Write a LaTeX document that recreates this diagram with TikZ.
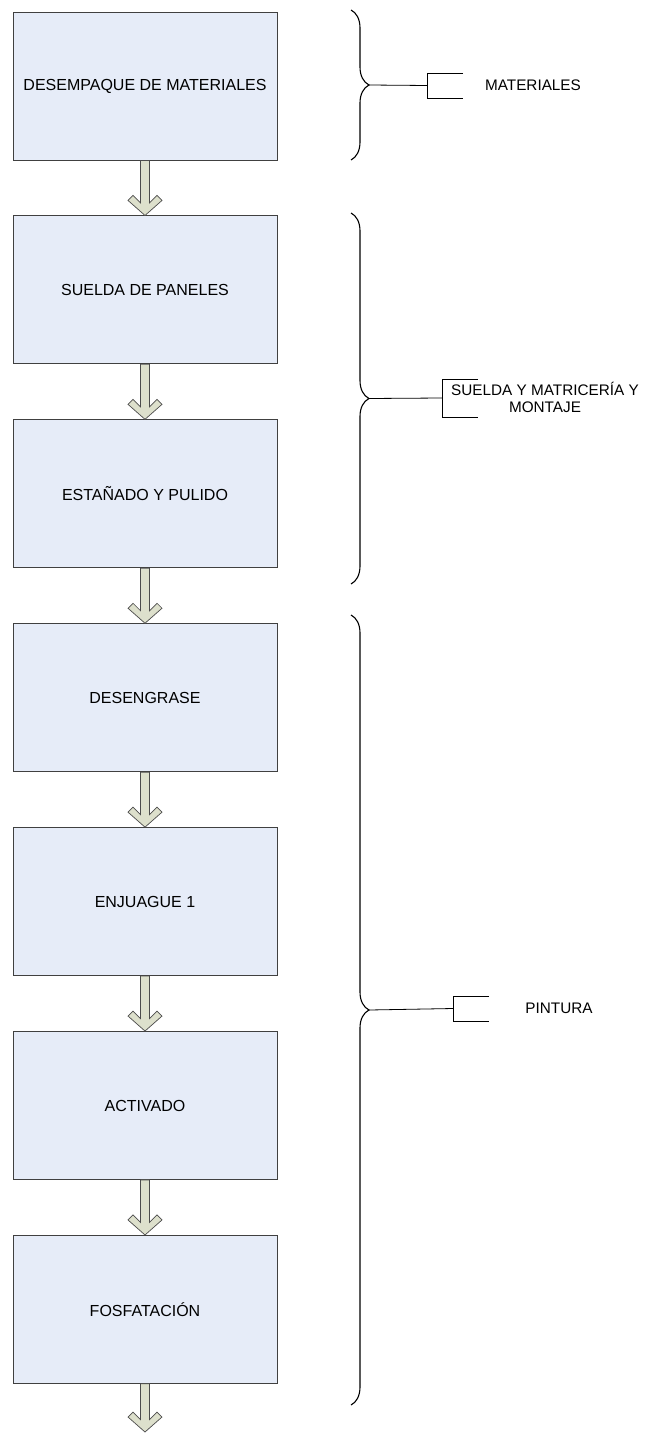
\documentclass[tikz,border=0pt]{standalone}
\usepackage{fontspec}
\setmainfont{Liberation Sans}
\usetikzlibrary{positioning,calc,decorations.pathreplacing}
\definecolor{fondocaja}{RGB}{230,236,248}
\definecolor{fondoflecha}{RGB}{221,224,204}

% flecha gruesa de una caja a la siguiente
\newcommand{\flecha}[2]{%
  \draw[flecha] ($(#1)+(-4.5,0)$) -- ($(#2)+(-4.5,-12.5)$) -- ($(#2)+(-12,-20)$)
    -- ($(#2)+(-17,-15)$) -- (#2) -- ($(#2)+(17,-15)$) -- ($(#2)+(12,-20)$)
    -- ($(#2)+(4.5,-12.5)$) -- ($(#1)+(4.5,0)$) -- cycle;}
% corchete abierto a la derecha
\newcommand{\corchete}[2]{%
  \draw ($(#1)+(36,-#2)$) -- ($(#1)+(0,-#2)$) -- ($(#1)+(0,#2)$) -- ($(#1)+(36,#2)$);}

\tikzset{
  caja/.style={draw=black!75,line width=0.9pt,fill=fondocaja,minimum width=264pt,
    minimum height=148pt,font=\fontsize{16}{19}\selectfont},
  flecha/.style={draw=black!70,line width=0.7pt,fill=fondoflecha,line join=miter},
  llave/.style={decorate,decoration={brace,amplitude=18pt},line width=1.1pt},
  etiqueta/.style={font=\fontsize{15.3}{17}\selectfont,align=center}
}

\begin{document}
\begin{tikzpicture}[x=1pt,y=-1pt,node distance=55pt]
\useasboundingbox (0,0) rectangle (650,1434);

\node[caja] (desemp) at (145,86) {DESEMPAQUE DE MATERIALES};
\node[caja,below=of desemp] (suelda) {SUELDA DE PANELES};
\node[caja,below=of suelda] (estan) {ESTAÑADO Y PULIDO};
\node[caja,below=of estan] (deseng) {DESENGRASE};
\node[caja,below=of deseng] (enjuag) {ENJUAGUE 1};
\node[caja,below=of enjuag] (activ) {ACTIVADO};
\node[caja,below=of activ] (fosfat) {FOSFATACIÓN};
\coordinate (fin) at (fosfat.south |- 0,1432);

\flecha{desemp.south}{suelda.north}
\flecha{suelda.south}{estan.north}
\flecha{estan.south}{deseng.north}
\flecha{deseng.south}{enjuag.north}
\flecha{enjuag.south}{activ.north}
\flecha{activ.south}{fosfat.north}
\flecha{fosfat.south}{fin}

% llaves
\draw[llave] (351,10) -- (351,160);
\draw[llave] (351,213) -- (351,584);
\draw[llave] (351,615) -- (351,1405);
\coordinate (p1) at (369,85);
\coordinate (p2) at (369,398.5);
\coordinate (p3) at (369,1010);

% grupos
\node[etiqueta] (materiales) at (533,85) {MATERIALES};
\node[etiqueta] (montaje) at (545,397) {SUELDA Y MATRICERÍA Y\\MONTAJE};
\node[etiqueta] (pintura) at (559,1008) {PINTURA};
\coordinate (c1) at (427,85.5);
\coordinate (c2) at (442,398);
\coordinate (c3) at (453,1008.5);

\draw[line width=0.8pt] (p1) -- (c1);
\draw[line width=0.8pt] (p2) -- (c2);
\draw[line width=0.8pt] (p3) -- (c3);
\corchete{c1}{12.5}
\corchete{c2}{19}
\corchete{c3}{12.5}
\end{tikzpicture}
\end{document}
